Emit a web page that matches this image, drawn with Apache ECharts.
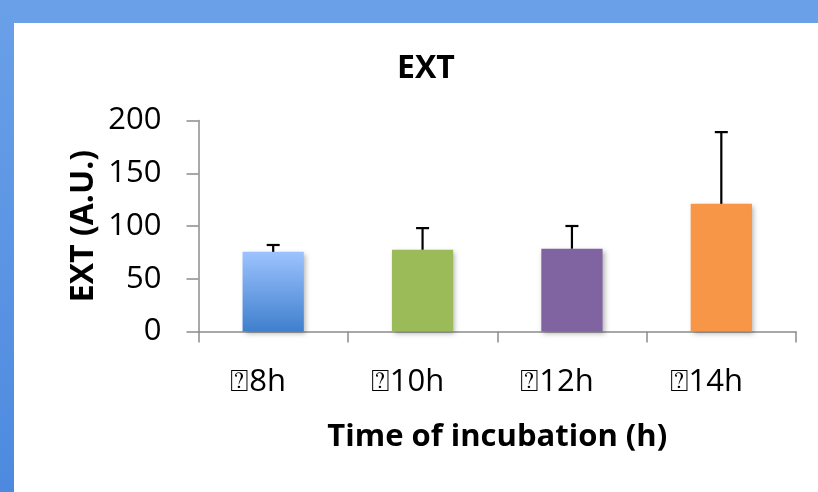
<!DOCTYPE html>
<html>
<head>
<meta charset="utf-8">
<script src="https://cdn.jsdelivr.net/npm/echarts@6/dist/echarts.min.js"></script>
<style>
html,body{margin:0;padding:0;background:#fff;}
#chart{width:818px;height:492px;}
</style>
</head>
<body>
<div id="chart"></div>
<script>
const categories = ['\u23708h', '\u237010h', '\u237012h', '\u237014h'];
const meanValues = [75.5, 77.5, 78.5, 121];
const errorTops = [82, 98, 100, 189];
const yTicks = [0, 50, 100, 150, 200];

const FONT = "'Open Sans', 'Liberation Sans', sans-serif";
const barColors = [
  new echarts.graphic.LinearGradient(0, 0, 0, 1, [
    {offset: 0, color: '#9DC3FF'},
    {offset: 1, color: '#3F7FCD'}
  ]),
  '#9BBB59', '#8064A2', '#F79646'
];

const chart = echarts.init(document.getElementById('chart'), null, {renderer: 'canvas'});
chart.setOption({
  animation: false,
  backgroundColor: '#ffffff',
  graphic: [
    {type: 'rect', left: 0, top: 0, shape: {width: 818, height: 23}, style: {fill: '#6AA0E8'}, z: 100},
    {type: 'rect', left: 0, top: 0, shape: {width: 14, height: 492},
      style: {fill: new echarts.graphic.LinearGradient(0, 0, 0, 1, [
        {offset: 0, color: '#6AA0E8'}, {offset: 1, color: '#4D8ADF'}])}, z: 100}
  ],
  title: {
    text: 'EXT',
    left: 421, top: 48,
    textAlign: 'center',
    textStyle: {fontFamily: FONT, fontWeight: 'bold', fontSize: 32, color: '#000'}
  },
  grid: {left: 198.5, right: 22, top: 120.5, bottom: 160.5, containLabel: false},
  xAxis: {
    type: 'category',
    data: categories,
    name: 'Time of incubation (h)',
    nameLocation: 'middle',
    nameGap: 90,
    nameTextStyle: {fontFamily: FONT, fontWeight: 'bold', fontSize: 31, color: '#000'},
    axisLine: {lineStyle: {color: '#8c8c8c', width: 1.5}},
    axisTick: {show: true, length: 11, lineStyle: {color: '#8c8c8c', width: 1.5}},
    axisLabel: {fontFamily: FONT, fontSize: 31, color: '#000', margin: 35, padding: [0, 30, 0, 0]},
    splitLine: {show: false}
  },
  yAxis: {
    type: 'value',
    min: yTicks[0], max: yTicks[yTicks.length - 1], interval: 50,
    name: 'EXT (A.U.)',
    nameLocation: 'middle',
    nameGap: 99,
    nameMoveOverlap: false,
    nameRotate: 90,
    nameTextStyle: {fontFamily: FONT, fontWeight: 'bold', fontSize: 32, color: '#000'},
    axisLine: {show: true, lineStyle: {color: '#8c8c8c', width: 1.5}},
    axisTick: {show: true, length: 12, lineStyle: {color: '#8c8c8c', width: 1.5}},
    axisLabel: {fontFamily: FONT, fontSize: 31, color: '#000', margin: 37},
    splitLine: {show: false}
  },
  series: [
    {
      type: 'bar',
      barWidth: '41%',
      data: meanValues.map((v, i) => ({value: v, itemStyle: {color: barColors[i]}})),
      itemStyle: {shadowBlur: 5, shadowColor: 'rgba(0,0,0,0.3)', shadowOffsetX: 2, shadowOffsetY: 2},
      z: 2
    },
    {
      type: 'custom',
      z: 3,
      data: meanValues.map((v, i) => [i, v, errorTops[i]]),
      renderItem: function (params, api) {
        const base = api.coord([api.value(0), api.value(1)]);
        const top = api.coord([api.value(0), api.value(2)]);
        const half = 6.5;
        const style = {stroke: '#000', lineWidth: 2.2};
        return {
          type: 'group',
          children: [
            {type: 'line', shape: {x1: base[0], y1: base[1], x2: top[0], y2: top[1]}, style: style},
            {type: 'line', shape: {x1: top[0] - half, y1: top[1], x2: top[0] + half, y2: top[1]}, style: style}
          ]
        };
      }
    }
  ]
});
</script>
</body>
</html>
